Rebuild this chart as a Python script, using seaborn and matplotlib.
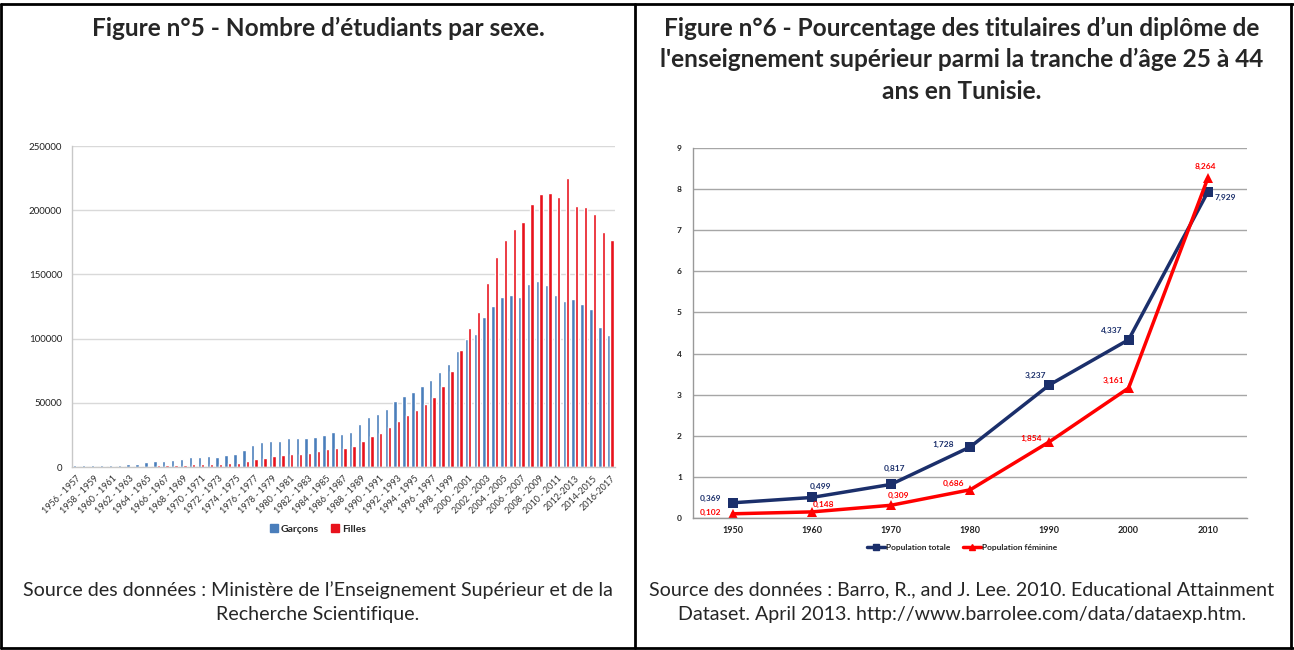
import matplotlib
matplotlib.use("Agg")
import matplotlib.pyplot as plt
import matplotlib.patches as mpatches
import matplotlib.lines as mlines
import seaborn as sns
import pandas as pd
import numpy as np

# --- Figure 5 : nombre d'étudiants par sexe ---
periodes = [
    "1956 - 1957", "1957 - 1958", "1958 - 1959", "1959 - 1960", "1960 - 1961",
    "1961 - 1962", "1962 - 1963", "1963 - 1964", "1964 - 1965", "1965 - 1966",
    "1966 - 1967", "1967 - 1968", "1968 - 1969", "1969 - 1970", "1970 - 1971",
    "1971 - 1972", "1972 - 1973", "1973 - 1974", "1974 - 1975", "1975 - 1976",
    "1976 - 1977", "1977 - 1978", "1978 - 1979", "1979 - 1980", "1980 - 1981",
    "1981 - 1982", "1982 - 1983", "1983 - 1984", "1984 - 1985", "1985 - 1986",
    "1986 - 1987", "1987 - 1988", "1988 - 1989", "1989 - 1990", "1990 - 1991",
    "1991 - 1992", "1992 - 1993", "1993 - 1994", "1994 - 1995", "1995 - 1996",
    "1996 - 1997", "1997 - 1998", "1998 - 1999", "1999 - 2000", "2000 - 2001",
    "2001 - 2002", "2002 - 2003", "2003 - 2004", "2004 - 2005", "2005 - 2006",
    "2006 - 2007", "2007 - 2008", "2008 - 2009", "2009 - 2010", "2010 - 2011",
    "2011-2012", "2012-2013", "2013-2014", "2014-2015", "2015-2016", "2016-2017",
]
garcons = [
    1800, 1800, 1800, 1700, 1700, 1800, 2600, 2600, 3900, 4700,
    4900, 5700, 6200, 7500, 8000, 8300, 8100, 9600, 10400, 13000,
    16900, 19500, 20600, 20600, 22400, 22400, 22900, 23200, 25300, 26900,
    25400, 27500, 33500, 38700, 41100, 45000, 51600, 55500, 58400, 63400,
    67500, 74100, 80400, 90300, 100000, 104000, 116800, 125800, 132300, 133600,
    132600, 142900, 144700, 141600, 133600, 129200, 131000, 126600, 122700, 109300,
    102800,
]
filles = [
    300, 350, 400, 450, 500, 600, 700, 900, 1100, 1300,
    1500, 1700, 1900, 2100, 2300, 2300, 2600, 2900, 3400, 4700,
    6200, 7000, 8600, 9600, 9900, 10400, 11200, 12200, 14100, 14600,
    14900, 16200, 20400, 24100, 26700, 30900, 35900, 40800, 44500, 49200,
    54500, 63400, 75100, 90800, 107900, 120700, 143400, 163600, 177000, 185500,
    191200, 204700, 212700, 213200, 210600, 225300, 203600, 202300, 197200, 182700,
    177000,
]

# --- Figure 6 : pourcentage de diplômés 25-44 ans ---
annees = [1950, 1960, 1970, 1980, 1990, 2000, 2010]
pop_totale = [0.369, 0.499, 0.817, 1.728, 3.237, 4.337, 7.929]
pop_feminine = [0.102, 0.148, 0.309, 0.686, 1.854, 3.161, 8.264]

BLUE = "#4a7ebb"
RED = "#e8121c"
NAVY = "#1b2f6b"
LRED = "#ff0000"

sns.set_style("white")
plt.rcParams["font.family"] = ["Lato", "DejaVu Sans"]

fig = plt.figure(figsize=(12.94, 6.5), dpi=100)

# cadre du tableau
for xs, ys in [([0.001, 0.999], [0.994, 0.994]), ([0.001, 0.999], [0.003, 0.003]),
               ([0.001, 0.001], [0.003, 0.994]), ([0.998, 0.998], [0.003, 0.994]),
               ([0.4907, 0.4907], [0.003, 0.994])]:
    fig.lines.append(mlines.Line2D(xs, ys, transform=fig.transFigure, color="black", lw=2))

# titres
TS = 17.6
fig.text(0.2457, 0.957, "Figure n°5 - Nombre d’étudiants par sexe.", ha="center", va="center",
         fontsize=TS, fontweight="bold")
fig.text(0.7434, 0.957, "Figure n°6 - Pourcentage des titulaires d’un diplôme de",
         ha="center", va="center", fontsize=TS, fontweight="bold")
fig.text(0.7434, 0.908, "l'enseignement supérieur parmi la tranche d’âge 25 à 44",
         ha="center", va="center", fontsize=TS, fontweight="bold")
fig.text(0.7434, 0.859, "ans en Tunisie.", ha="center", va="center", fontsize=TS, fontweight="bold")

# sources
SS = 14.1
fig.text(0.2457, 0.092, "Source des données : Ministère de l’Enseignement Supérieur et de la",
         ha="center", va="center", fontsize=SS)
fig.text(0.2457, 0.055, "Recherche Scientifique.", ha="center", va="center", fontsize=SS)
fig.text(0.7434, 0.092, "Source des données : Barro, R., and J. Lee. 2010. Educational Attainment",
         ha="center", va="center", fontsize=SS)
fig.text(0.7434, 0.055, "Dataset. April 2013. http://www.barrolee.com/data/dataexp.htm.",
         ha="center", va="center", fontsize=SS)

# ---------- graphique de gauche ----------
df_bar = pd.DataFrame({
    "periode": periodes * 2,
    "sexe": ["Garçons"] * len(periodes) + ["Filles"] * len(periodes),
    "effectif": garcons + filles,
})
ax1 = fig.add_axes([0.0556, 0.2815, 0.4196, 0.4938])
sns.barplot(data=df_bar, x="periode", y="effectif", hue="sexe", palette=[BLUE, RED],
            width=0.76, saturation=1, legend=False, ax=ax1)
ax1.set_xlim(-0.5, len(periodes) - 0.5)
ax1.set_ylim(0, 250000)
ax1.set_yticks(np.arange(0, 250001, 50000))
ax1.set_yticklabels([str(v) for v in range(0, 250001, 50000)], fontsize=7, color="#222222")
ax1.set_xticks(range(0, len(periodes), 2))
ax1.set_xticklabels(periodes[::2], rotation=45, ha="right", rotation_mode="anchor",
                    fontsize=6.5, color="#333333")
ax1.tick_params(axis="x", length=3, color="#bbbbbb", pad=2)
ax1.tick_params(axis="y", length=3, color="#bbbbbb", pad=4)
ax1.set_xlabel("")
ax1.set_ylabel("")
ax1.grid(axis="y", color="#d9d9d9", lw=1)
ax1.set_axisbelow(True)
sns.despine(ax=ax1, top=True, right=True)
for s in ["left", "bottom"]:
    ax1.spines[s].set_color("#c8c8c8")
    ax1.spines[s].set_linewidth(1)
h1 = [mpatches.Patch(color=BLUE, label="Garçons"), mpatches.Patch(color=RED, label="Filles")]
ax1.legend(handles=h1, loc="center", bbox_to_anchor=(0.2457, 0.186), bbox_transform=fig.transFigure,
           ncol=2, frameon=False, handlelength=0.7, handleheight=0.7,
           handletextpad=0.3, columnspacing=1.2, prop={"weight": "bold", "size": 7.5})

# ---------- graphique de droite ----------
df_line = pd.DataFrame({
    "annee": annees * 2,
    "serie": ["Population totale"] * len(annees) + ["Population féminine"] * len(annees),
    "valeur": pop_totale + pop_feminine,
})
ax2 = fig.add_axes([0.5355, 0.2031, 0.4285, 0.5692])
sns.lineplot(data=df_line, x="annee", y="valeur", hue="serie", style="serie",
             palette=[NAVY, LRED], markers=["s", "^"], dashes=False, lw=2.5,
             markersize=7, markeredgewidth=0, legend=False, ax=ax2)
ax2.set_xlim(1945, 2015)
ax2.set_ylim(0, 9)
ax2.set_xticks(annees)
ax2.set_xticklabels([str(a) for a in annees], fontsize=6.5, fontweight="bold", color="#222222")
ax2.set_xticks(np.arange(1955, 2016, 10), minor=True)
ax2.tick_params(axis="x", which="major", length=0, pad=6)
ax2.tick_params(axis="x", which="minor", length=4, color="#999999")
ax2.set_yticks(range(0, 10))
ax2.set_yticklabels([str(v) for v in range(0, 10)], fontsize=6, fontweight="bold", color="#222222")
ax2.tick_params(axis="y", length=3, color="#999999", pad=5)
ax2.set_xlabel("")
ax2.set_ylabel("")
ax2.grid(axis="y", color="#a6a6a6", lw=1)
ax2.set_axisbelow(True)
sns.despine(ax=ax2, top=True, right=True)
for s in ["left", "bottom"]:
    ax2.spines[s].set_color("#999999")
    ax2.spines[s].set_linewidth(1)

off_tot = [(-22, 4), (9, 11), (4, 16), (-27, 3), (-14, 9), (-17, 9), (18, -5)]
off_fem = [(-22, 1), (12, 7), (8, 10), (-17, 6), (-18, 3), (-15, 8), (-2, 12)]
for a, v, o in zip(annees, pop_totale, off_tot):
    ax2.annotate(f"{v:.3f}".replace(".", ","), (a, v), xytext=o, textcoords="offset pixels",
                 ha="center", va="center", fontsize=6, fontweight="bold", color=NAVY)
for a, v, o in zip(annees, pop_feminine, off_fem):
    ax2.annotate(f"{v:.3f}".replace(".", ","), (a, v), xytext=o, textcoords="offset pixels",
                 ha="center", va="center", fontsize=6, fontweight="bold", color=LRED)

h2 = [mlines.Line2D([], [], color=NAVY, lw=2.5, marker="s", markersize=5, label="Population totale"),
      mlines.Line2D([], [], color=LRED, lw=2.5, marker="^", markersize=5, label="Population féminine")]
ax2.legend(handles=h2, loc="center", bbox_to_anchor=(0.7434, 0.158), bbox_transform=fig.transFigure,
           ncol=2, frameon=False, handlelength=2.2, handletextpad=0.1,
           columnspacing=1.5, prop={"weight": "bold", "size": 6})

fig.savefig("out.png", dpi=100)
